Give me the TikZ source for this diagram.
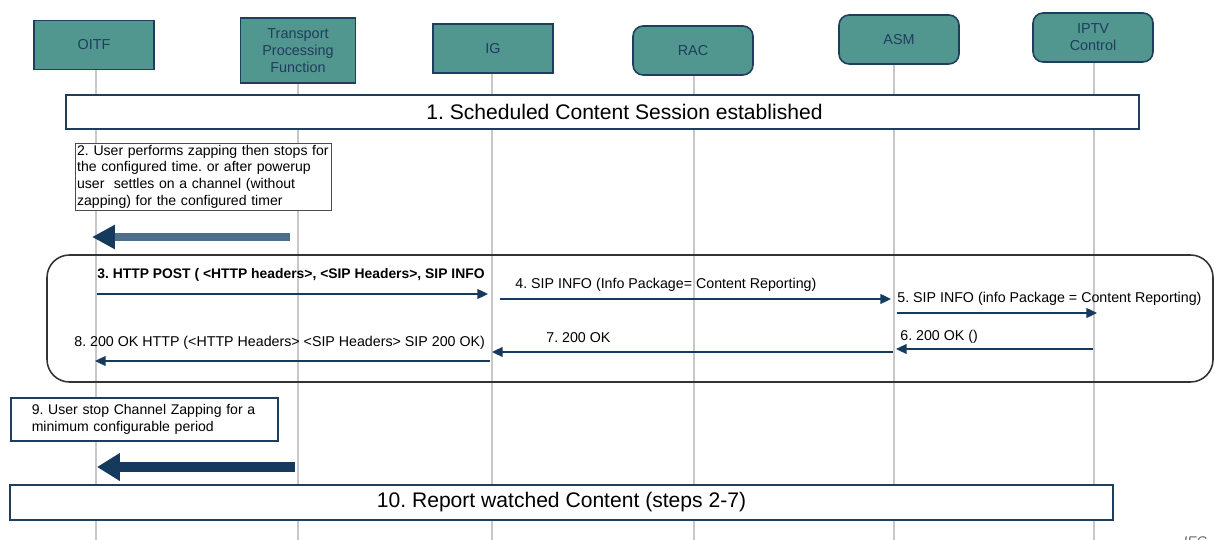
\documentclass[tikz,border=0pt]{standalone}
\usepackage{fontspec}
\setmainfont{Liberation Sans}
\usetikzlibrary{arrows.meta}
\frenchspacing

\definecolor{entfill}{HTML}{529690}
\definecolor{entline}{HTML}{1F3D5C}
\definecolor{msgline}{HTML}{163A5E}
\definecolor{lifegrey}{HTML}{C8C8C8}
\definecolor{steelbar}{HTML}{4D6F8C}

\begin{document}
\begin{tikzpicture}[x=0.02cm, y=-0.02cm,
    entity/.style={draw=entline, fill=entfill, line width=0.9pt, text=entline,
        minimum width=2.4cm, minimum height=0.98cm, align=center,
        font=\fontsize{8.2}{9.6}\selectfont},
    entityr/.style={entity, rounded corners=0.2cm},
    lifeline/.style={draw=lifegrey, line width=0.9pt},
    phase/.style={draw=entline, line width=1.1pt, inner sep=0pt,
        font=\fontsize{12}{14}\selectfont},
    note/.style={draw, inner sep=1pt, align=left,
        font=\fontsize{8}{9.5}\selectfont},
    msg/.style={draw=msgline, line width=1.1pt, -{Triangle[length=6pt,width=5.5pt]}},
    lbl/.style={anchor=base west, inner sep=0pt, font=\fontsize{8.1}{9}\selectfont},
]
\useasboundingbox (0,0) rectangle (1214,540);

% functional entities and their lifelines
\node[entity]  (oitf) at (94,45) {OITF};
\node[entity, minimum width=2.3cm, minimum height=1.3cm] (tpf) at (298,50.5) {Transport\\Processing\\Function};
\node[entity]  (ig)   at (493,48.5) {IG};
\node[entityr] (rac)  at (693,50.5) {RAC};
\node[entityr] (asm)  at (899,39.5) {ASM};
\node[entityr] (iptv) at (1093,37.5) {IPTV\\Control};

\coordinate (oitfend) at (96,540);
\coordinate (tpfend)  at (298,540);
\coordinate (igend)   at (492,540);
\coordinate (racend)  at (694,540);
\coordinate (asmend)  at (894,540);
\coordinate (iptvend) at (1094,540);

\draw[lifeline] (oitf.south -| oitfend) -- (oitfend);
\draw[lifeline] (tpf.south -| tpfend) -- (tpfend);
\draw[lifeline] (ig.south -| igend) -- (igend);
\draw[lifeline] (rac.south -| racend) -- (racend);
\draw[lifeline] (asm.south -| asmend) -- (asmend);
\draw[lifeline] (iptv.south -| iptvend) -- (iptvend);

% step 1
\node[phase, fill=white, minimum width=21.46cm, minimum height=0.68cm] (setup) at (602.5,112)
    {\hspace*{0.88cm}\raisebox{-0.08cm}{1. Scheduled Content Session established}};

% step 2
\node[note, draw=black!70, fill=white, anchor=north west, text width=5.06cm] (zap) at (75,143)
    {2. User performs zapping then stops for\\the configured time. or after powerup\\user\ \ settles on a channel (without\\zapping) for the configured timer};
\coordinate (zapfrom) at (290,237);
\coordinate (zapto)   at (92,237);
\draw[draw=steelbar, line width=4.6pt, -{Triangle[length=13pt,width=13pt,color=msgline]}] (zapfrom) -- (zapto);

% reporting exchange
\draw[draw=black!80, line width=0.9pt, rounded corners=0.45cm] (47,255) rectangle (1213,382);

\coordinate (m3a) at (97,294);   \coordinate (m3b) at (488,294);
\coordinate (m4a) at (500,299);  \coordinate (m4b) at (891,299);
\coordinate (m5a) at (897,313);  \coordinate (m5b) at (1097,313);
\coordinate (m6a) at (1093,349); \coordinate (m6b) at (896,349);
\coordinate (m7a) at (893,352);  \coordinate (m7b) at (492,352);
\coordinate (m8a) at (490,361);  \coordinate (m8b) at (95,361);

\draw[msg] (m3a) -- (m3b);
\draw[msg] (m4a) -- (m4b);
\draw[msg] (m5a) -- (m5b);
\draw[msg] (m6a) -- (m6b);
\draw[msg] (m7a) -- (m7b);
\draw[msg] (m8a) -- (m8b);

\node[lbl, font=\fontsize{7.9}{9}\bfseries] (l3) at (97,279) {3. HTTP POST ( <HTTP headers>, <SIP Headers>, SIP INFO};
\node[lbl] (l4) at (515,289) {4. SIP INFO (Info Package= Content Reporting)};
\node[lbl] (l5) at (897,303) {5. SIP INFO (info Package = Content Reporting)};
\node[lbl] (l6) at (900,341) {6. 200 OK ()};
\node[lbl] (l7) at (546,343) {7. 200 OK};
\node[lbl] (l8) at (74,347) {8. 200 OK HTTP (<HTTP Headers> <SIP Headers> SIP 200 OK)};

% step 9
\node[note, draw=entline, line width=0.9pt, fill=white, anchor=north west,
      text width=4.5cm, minimum height=0.86cm, inner xsep=0.42cm] (stop) at (10,397)
    {9. User stop Channel Zapping for a\\minimum configurable period};
\coordinate (stopfrom) at (295,467);
\coordinate (stopto)   at (97,467);
\draw[draw=msgline, line width=5.6pt, -{Triangle[length=13pt,width=15pt]}] (stopfrom) -- (stopto);

% step 10
\node[phase, fill=white, minimum width=22.06cm, minimum height=0.7cm] (report) at (561.5,502.5)
    {10. Report watched Content (steps 2-7)};

\node[anchor=base west, inner sep=0pt, text=black!60, font=\fontsize{8}{9}\itshape] (iec) at (1183,546) {IEC};
\end{tikzpicture}
\end{document}
